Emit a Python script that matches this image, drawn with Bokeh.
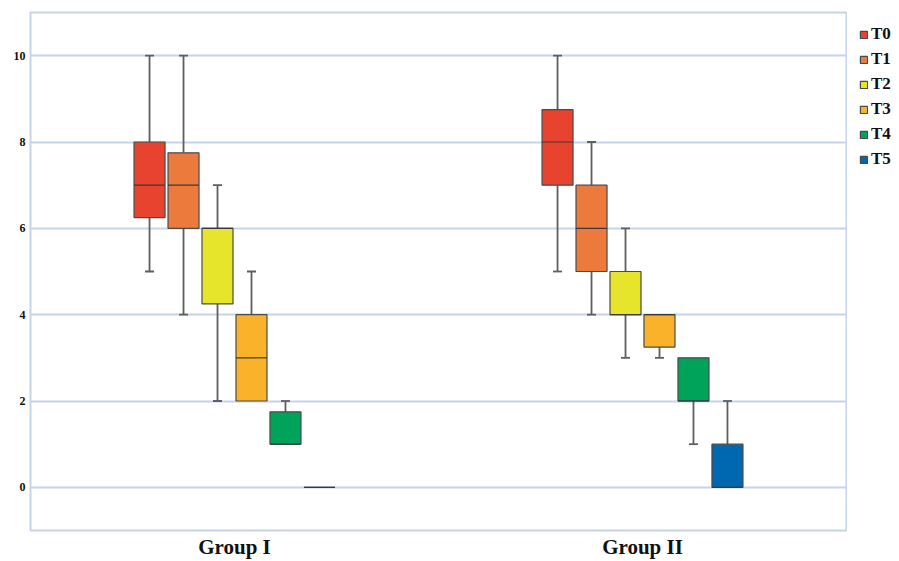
from bokeh.plotting import figure
from bokeh.layouts import row
from bokeh.models import FactorRange, ColumnDataSource, Legend, LegendItem
from bokeh.transform import dodge
from bokeh.embed import file_html
from bokeh.resources import INLINE

groups = ["Group I", "Group II"]
series = ["T0", "T1", "T2", "T3", "T4", "T5"]
colors = ["#E8432F", "#EC7A3D", "#E7E52B", "#F9B22A", "#00A35A", "#0068B0"]

# per series: values for [Group I, Group II]
lower = {"T0": [5, 5], "T1": [4, 4], "T2": [2, 3], "T3": [2, 3], "T4": [1, 1], "T5": [0, 0]}
q1 = {"T0": [6.25, 7], "T1": [6, 5], "T2": [4.25, 4], "T3": [2, 3.25], "T4": [1, 2], "T5": [0, 0]}
median = {"T0": [7, 8], "T1": [7, 6], "T2": [6, 4], "T3": [3, 4], "T4": [1, 2], "T5": [0, 0]}
q3 = {"T0": [8, 8.75], "T1": [7.75, 7], "T2": [6, 5], "T3": [4, 4], "T4": [1.75, 3], "T5": [0, 1]}
upper = {"T0": [10, 10], "T1": [10, 8], "T2": [7, 6], "T3": [5, 4], "T4": [2, 3], "T5": [0, 2]}

yticks = [0, 2, 4, 6, 8, 10]

p = figure(x_range=FactorRange(*groups), y_range=(-1, 11), width=847, height=561,
           output_backend="svg", toolbar_location=None,
           min_border_left=30, min_border_right=1, min_border_top=12, min_border_bottom=29)

step = 0.0833
bw = 0.076
grid_c = "#C6D4EB"
for i, s in enumerate(series):
    off = (i - 2.5) * step
    src = ColumnDataSource(dict(g=groups, lo=lower[s], q1=q1[s], med=median[s], q3=q3[s], up=upper[s]))
    x = dodge("g", off, range=p.x_range)
    # whiskers
    p.segment(x0=x, y0="q3", x1=x, y1="up", source=src, line_color="#5e5e5e", line_width=1.8)
    p.segment(x0=x, y0="lo", x1=x, y1="q1", source=src, line_color="#5e5e5e", line_width=1.8)
    # caps only where whisker extends beyond the box
    cap_g, cap_y = [], []
    for j, g in enumerate(groups):
        if upper[s][j] > q3[s][j]:
            cap_g.append(g); cap_y.append(upper[s][j])
        if lower[s][j] < q1[s][j]:
            cap_g.append(g); cap_y.append(lower[s][j])
    csrc = ColumnDataSource(dict(g=cap_g, y=cap_y))
    p.scatter(x=dodge("g", off, range=p.x_range), y="y", source=csrc, marker="dash",
              size=9, line_color="#5e5e5e", line_width=1.8)
    p.vbar(x=x, top="q3", bottom="q1", width=bw, source=src, fill_color=colors[i],
           line_color="#4a4a4a", line_width=1.2)
    p.segment(x0=dodge("g", off - bw / 2, range=p.x_range), y0="med",
              x1=dodge("g", off + bw / 2, range=p.x_range), y1="med", source=src,
              line_color="#3a3a3a", line_width=1.2)

p.outline_line_color = grid_c
p.outline_line_width = 2
p.xgrid.grid_line_color = None
p.ygrid.grid_line_color = grid_c
p.ygrid.grid_line_width = 2
p.yaxis.ticker = yticks
p.yaxis.axis_line_color = None
p.yaxis.major_tick_line_color = None
p.yaxis.minor_tick_line_color = None
p.yaxis.major_tick_out = 0
p.yaxis.major_tick_in = 0
p.yaxis.major_label_standoff = 5
p.yaxis.major_label_text_font = "Liberation Serif"
p.yaxis.major_label_text_font_style = "bold"
p.yaxis.major_label_text_font_size = "12px"
p.yaxis.major_label_text_color = "#111111"
p.xaxis.axis_line_color = None
p.xaxis.major_tick_line_color = None
p.xaxis.minor_tick_line_color = None
p.xaxis.major_tick_out = 0
p.xaxis.major_tick_in = 0
p.xaxis.major_label_standoff = 4
p.xaxis.major_label_text_font = "Liberation Serif"
p.xaxis.major_label_text_font_style = "bold"
p.xaxis.major_label_text_font_size = "21px"
p.xaxis.major_label_text_color = "#111111"
p.x_range.range_padding = 0
p.background_fill_color = "white"
p.border_fill_color = "white"

# legend panel (hidden key renderers carry each series' box data)
lg = figure(width=52, height=561, x_range=(0, 1), y_range=(0, 1), output_backend="svg",
            toolbar_location=None, min_border=0, x_axis_type=None, y_axis_type=None)
lg.outline_line_color = None
lg.xgrid.grid_line_color = None
lg.ygrid.grid_line_color = None
items = []
for i, s in enumerate(series):
    r = lg.vbar(x=[0.5, 0.5], top=q3[s], bottom=q1[s], width=0.1, fill_color=colors[i],
                line_color="#4a4a4a", line_width=1.2, visible=False)
    items.append(LegendItem(label=s, renderers=[r]))
legend = Legend(items=items, location=(12, 361), padding=0, margin=0, spacing=5,
                glyph_width=9, glyph_height=9, label_height=17, label_standoff=3,
                label_text_font="Liberation Serif", label_text_font_style="bold",
                label_text_font_size="17px", label_text_color="#111111",
                background_fill_alpha=0, border_line_alpha=0, click_policy="none")
lg.add_layout(legend, "center")

layout = row(p, lg)
open("out.html", "w").write(file_html(layout, INLINE))
